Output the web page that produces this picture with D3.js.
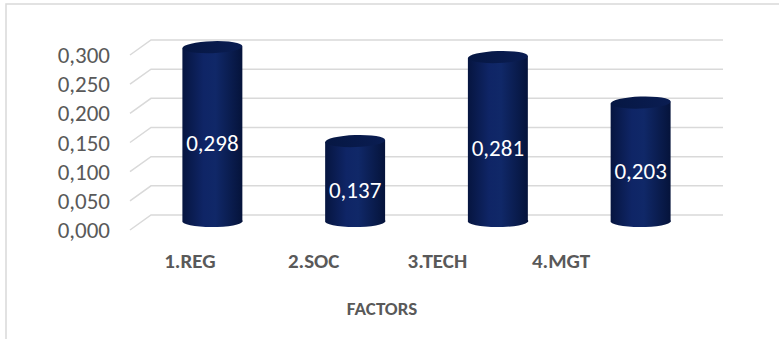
<!DOCTYPE html>
<html>
<head>
<meta charset="utf-8">
<script src="https://cdn.jsdelivr.net/npm/d3@7"></script>
<style>
  body { margin: 0; background: #fff; }
  svg { display: block; font-family: Calibri, Carlito, Lato, "Open Sans", sans-serif; }
</style>
</head>
<body>
<div id="chart"></div>
<script>
// chart data
var categories = ["1.REG", "2.SOC", "3.TECH", "4.MGT"];
var values = [0.298, 0.137, 0.281, 0.203];
var yTicks = [0, 0.05, 0.10, 0.15, 0.20, 0.25, 0.30];
var axisTitle = "FACTORS";

var W = 779, H = 339;
var svg = d3.select("#chart").append("svg")
    .attr("width", W)
    .attr("height", H);

// outer border of the chart area
svg.append("rect")
    .attr("x", 6).attr("y", 4)
    .attr("width", W + 10).attr("height", H + 10)
    .attr("fill", "none")
    .attr("stroke", "#d9d9d9")
    .attr("stroke-width", 1.5);

// 3d-ish: back wall scale, mid-depth scale (bars), front scale (labels)
var yBack = d3.scaleLinear().domain([0, 0.3]).range([215, 40]);
var yMid = d3.scaleLinear().domain([0, 0.3]).range([222, 47]);
var yFront = d3.scaleLinear().domain([0, 0.3]).range([230, 55]);
var depthX = 21;

var xBar = d3.scaleBand().domain(categories).range([141, 712])
    .paddingInner(0.58).paddingOuter(0.29);
var xLab = d3.scaleBand().domain(categories).range([128, 623]);

var fmt = function(v) { return d3.format(".3f")(v).replace(".", ","); };

// gridlines (floor edge + back wall)
var grid = svg.append("g");
yTicks.forEach(function(t) {
  grid.append("path")
      .attr("d", "M130," + yFront(t) + "L" + (130 + depthX) + "," + yBack(t) + "L723," + yBack(t))
      .attr("fill", "none")
      .attr("stroke", "#d9d9d9")
      .attr("stroke-width", 1.5);
});

// y axis labels
svg.append("g").selectAll("text")
    .data(yTicks)
    .enter().append("text")
    .attr("x", 110)
    .attr("y", function(d) { return yFront(d); })
    .attr("dy", "0.35em")
    .attr("text-anchor", "end")
    .attr("fill", "#595959")
    .style("font-size", "23px")
    .text(fmt);

// cylinder gradients
var defs = svg.append("defs");
var g1 = defs.append("linearGradient").attr("id", "body")
    .attr("x1", "0").attr("x2", "1").attr("y1", "0").attr("y2", "0");
g1.append("stop").attr("offset", "0%").attr("stop-color", "#061540");
g1.append("stop").attr("offset", "35%").attr("stop-color", "#0f2566");
g1.append("stop").attr("offset", "55%").attr("stop-color", "#102868");
g1.append("stop").attr("offset", "100%").attr("stop-color", "#05133a");
var g2 = defs.append("linearGradient").attr("id", "cap")
    .attr("x1", "0").attr("x2", "1").attr("y1", "0").attr("y2", "0");
g2.append("stop").attr("offset", "0%").attr("stop-color", "#061743");
g2.append("stop").attr("offset", "100%").attr("stop-color", "#0a1d52");

var ry = 6;
var bars = svg.append("g").selectAll("g")
    .data(values)
    .enter().append("g");

bars.append("path")
    .attr("d", function(d, i) {
      var x0 = xBar(categories[i]), w = xBar.bandwidth();
      var yt = yMid(d), yb = yMid(0);
      return "M" + x0 + "," + yt +
             "L" + x0 + "," + yb +
             "A" + (w / 2) + "," + ry + " 0 0 0 " + (x0 + w) + "," + (yb - 2) +
             "L" + (x0 + w) + "," + (yt - 2) + "Z";
    })
    .attr("fill", "url(#body)");

bars.append("ellipse")
    .attr("cx", function(d, i) { return xBar(categories[i]) + xBar.bandwidth() / 2; })
    .attr("cy", function(d) { return yMid(d) - 1; })
    .attr("rx", xBar.bandwidth() / 2)
    .attr("ry", ry)
    .attr("transform", function(d, i) {
      var cx = xBar(categories[i]) + xBar.bandwidth() / 2;
      return "rotate(-2," + cx + "," + (yMid(d) - 1) + ")";
    })
    .attr("fill", "url(#cap)");

bars.append("text")
    .attr("x", function(d, i) { return xBar(categories[i]) + xBar.bandwidth() / 2; })
    .attr("y", function(d) { return yFront(d / 2); })
    .attr("dy", "0.35em")
    .attr("text-anchor", "middle")
    .attr("fill", "#fff")
    .style("font-size", "23px")
    .text(fmt);

// category labels
svg.append("g").selectAll("text")
    .data(categories)
    .enter().append("text")
    .attr("x", function(d) { return xLab(d) + xLab.bandwidth() / 2; })
    .attr("y", 261)
    .attr("dy", "0.35em")
    .attr("text-anchor", "middle")
    .attr("fill", "#595959")
    .style("font-size", "21px")
    .style("font-weight", "bold")
    .text(function(d) { return d; });

svg.append("text")
    .attr("x", 382)
    .attr("y", 308)
    .attr("dy", "0.35em")
    .attr("text-anchor", "middle")
    .attr("fill", "#595959")
    .style("font-size", "19px")
    .style("font-weight", "bold")
    .text(axisTitle);
</script>
</body>
</html>
